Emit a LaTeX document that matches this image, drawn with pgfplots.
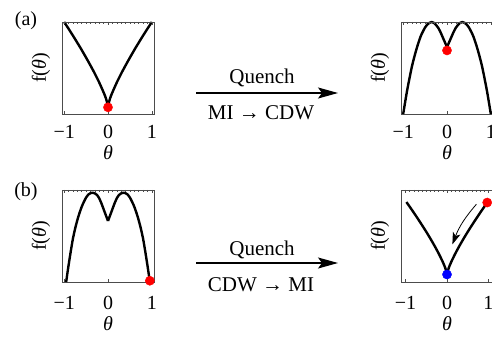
\documentclass[border=0pt]{standalone}
\usepackage{fontspec}
\setmainfont{Liberation Serif}
\usepackage{pgfplots}
\pgfplotsset{compat=1.18}
\usetikzlibrary{arrows.meta}

\pgfplotsset{
  panel/.style={scale only axis, width=92pt, height=92pt,
    xmin=-1.05, xmax=1.05, ymin=-0.1, ymax=1, clip=false,
    xtick={-1,0,1}, xticklabels={−1,0,1}, ytick=\empty,
    tick align=inside, major tick length=3pt,
    axis line style={black!70, line width=0.7pt},
    tick style={black!70, line width=0.6pt},
    xticklabel style={inner sep=0pt, anchor=north},
    xlabel={\textit{θ}}, ylabel={f(\textit{θ})},
    ylabel style={at={(axis description cs:-0.228,0.5)}, anchor=center, inner sep=0pt}},
  toprow/.style={xticklabel style={yshift=-11pt},
    xlabel style={at={(axis description cs:0.5,-0.424)}, anchor=center, inner sep=0pt}},
  botrow/.style={xticklabel style={yshift=-14pt},
    xlabel style={at={(axis description cs:0.5,-0.457)}, anchor=center, inner sep=0pt}},
  minorticks/.style={scale only axis, width=92pt, height=92pt, ymin=-0.1, ymax=1,
    axis x line*=top, axis y line=none,
    xtick={-1,-0.9,...,1}, xticklabels={}, tick align=inside,
    major tick length=1.8pt, tick style={black!70, line width=0.5pt},
    axis line style={black!70, line width=0.7pt}},
  curve/.style={black, line width=2.4pt, smooth, no markers, line join=round},
  dot/.style={only marks, mark=*, mark size=4.6pt},
}

\begin{document}
\fontsize{20}{24}\selectfont
\begin{tikzpicture}
\path[use as bounding box] (0pt,0pt) rectangle (492pt,346pt);
\clip (0pt,0pt) rectangle (492pt,346pt);

% (a) left
\begin{axis}[panel, toprow, at={(62pt,232pt)}, anchor=south west]
\addplot[curve] coordinates {(-1,1)(-0.9,0.919)(-0.8,0.837)(-0.7,0.752)(-0.6,0.665)(-0.5,0.574)(-0.4,0.480)(-0.3,0.382)(-0.2,0.276)(-0.1,0.158)(-0.05,0.091)(0,0)};
\addplot[curve] coordinates {(0,0)(0.05,0.091)(0.1,0.158)(0.2,0.276)(0.3,0.382)(0.4,0.480)(0.5,0.574)(0.6,0.665)(0.7,0.752)(0.8,0.837)(0.9,0.919)(1,1)};
\addplot[dot, red] coordinates {(0,-0.02)};
\end{axis}
\begin{axis}[minorticks, xmin=-1.05, xmax=1.05, at={(62pt,232pt)}, anchor=south west]
\end{axis}

% (a) right
\begin{axis}[panel, toprow, at={(401pt,232pt)}, anchor=south west]
\addplot[curve] coordinates {(-1,-0.1)(-0.95,0.06)(-0.9,0.21)(-0.8,0.47)(-0.7,0.67)(-0.6,0.83)(-0.5,0.935)(-0.45,0.97)(-0.4,0.99)(-0.35,1.0)(-0.3,0.99)(-0.25,0.965)(-0.2,0.93)(-0.15,0.88)(-0.1,0.82)(-0.05,0.76)(0,0.70)};
\addplot[curve] coordinates {(0,0.70)(0.05,0.76)(0.1,0.82)(0.15,0.88)(0.2,0.93)(0.25,0.965)(0.3,0.99)(0.35,1.0)(0.4,0.99)(0.45,0.97)(0.5,0.935)(0.6,0.83)(0.7,0.67)(0.8,0.47)(0.9,0.21)(0.95,0.06)(1,-0.1)};
\addplot[dot, red] coordinates {(0,0.66)};
\end{axis}
\begin{axis}[minorticks, xmin=-1.05, xmax=1.05, at={(401pt,232pt)}, anchor=south west]
\end{axis}

% (b) left
\begin{axis}[panel, botrow, at={(62pt,64pt)}, anchor=south west]
\addplot[curve] coordinates {(-0.955,-0.1)(-0.9,0.1)(-0.8,0.42)(-0.7,0.64)(-0.6,0.8)(-0.5,0.91)(-0.45,0.945)(-0.4,0.962)(-0.35,0.968)(-0.3,0.96)(-0.25,0.94)(-0.2,0.9)(-0.15,0.84)(-0.1,0.77)(-0.05,0.7)(0,0.63)};
\addplot[curve] coordinates {(0,0.63)(0.05,0.7)(0.1,0.77)(0.15,0.84)(0.2,0.9)(0.25,0.94)(0.3,0.96)(0.35,0.968)(0.4,0.962)(0.45,0.945)(0.5,0.91)(0.6,0.8)(0.7,0.64)(0.8,0.42)(0.9,0.1)(0.955,-0.1)};
\addplot[dot, red] coordinates {(0.955,-0.085)};
\end{axis}
\begin{axis}[minorticks, xmin=-1.05, xmax=1.05, at={(62pt,64pt)}, anchor=south west]
\end{axis}

% (b) right
\begin{axis}[panel, botrow, xmin=-1.11, xmax=1.11, at={(401pt,64pt)}, anchor=south west]
\addplot[curve] coordinates {(-0.98,0.856)(-0.9,0.800)(-0.8,0.728)(-0.7,0.654)(-0.6,0.578)(-0.5,0.500)(-0.4,0.418)(-0.3,0.332)(-0.2,0.240)(-0.1,0.138)(-0.05,0.079)(0,0)};
\addplot[curve] coordinates {(0,0)(0.05,0.079)(0.1,0.138)(0.2,0.240)(0.3,0.332)(0.4,0.418)(0.5,0.500)(0.6,0.578)(0.7,0.654)(0.8,0.728)(0.9,0.800)(0.97,0.849)};
\draw[line width=0.8pt, -{Stealth[length=12pt,width=8pt,inset=3pt]}]
  (axis cs:0.71,0.83) to[bend right=10] (axis cs:0.13,0.35);
\addplot[dot, blue] coordinates {(0,-0.01)};
\addplot[dot, red] coordinates {(0.97,0.85)};
\end{axis}
\begin{axis}[minorticks, xmin=-1.11, xmax=1.11, at={(401pt,64pt)}, anchor=south west]
\end{axis}

% panel letters
\node at (26pt,325pt) {(a)};
\node at (26pt,154pt) {(b)};

% quench arrows
\draw[line width=1.2pt, -{Stealth[length=20pt,width=11pt,inset=4pt]}] (196pt,253pt) -- (338pt,253pt);
\node[font=\fontsize{21}{24}\selectfont] at (262pt,268pt) {Quench};
\node[font=\fontsize{21}{24}\selectfont] at (261pt,233pt) {MI → CDW};
\draw[line width=1.2pt, -{Stealth[length=20pt,width=11pt,inset=4pt]}] (196pt,83pt) -- (338pt,83pt);
\node[font=\fontsize{21}{24}\selectfont] at (262pt,96pt) {Quench};
\node[font=\fontsize{21}{24}\selectfont] at (261pt,61pt) {CDW → MI};
\end{tikzpicture}
\end{document}
